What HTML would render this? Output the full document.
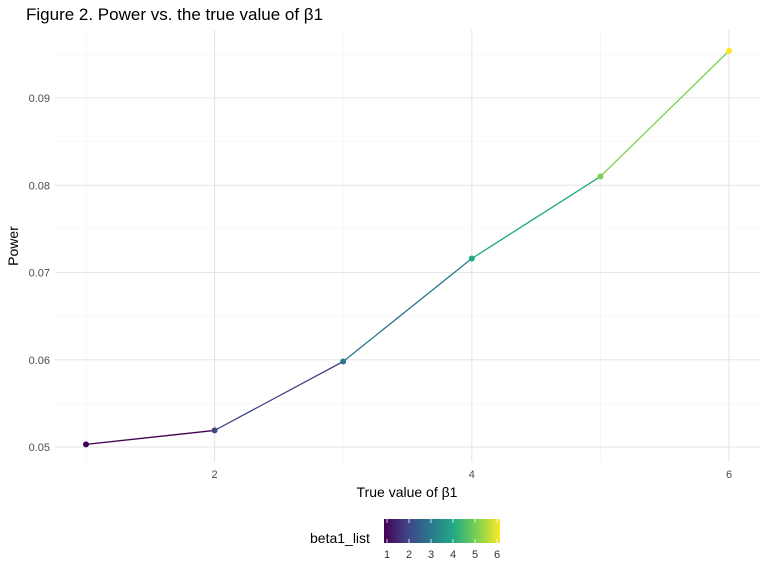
<!DOCTYPE html>
<html><head><meta charset="utf-8"><style>
body{margin:0;background:#fff;}
text{font-family:"Liberation Sans",sans-serif;}
</style></head><body>
<svg id="chart" width="768" height="576" xmlns="http://www.w3.org/2000/svg">
<defs><linearGradient id="vir" x1="0" x2="1" y1="0" y2="0">
<stop offset="0" stop-color="#440154"/><stop offset="0.2" stop-color="#414487"/><stop offset="0.4" stop-color="#2A788E"/><stop offset="0.6" stop-color="#22A884"/><stop offset="0.8" stop-color="#7AD151"/><stop offset="1" stop-color="#FDE725"/></linearGradient></defs>
<text x="26" y="20" font-size="17" fill="#000">Figure 2. Power vs. the true value of β1</text>
<g id="grid"></g>
<g id="marks"></g>
<text x="407" y="497" font-size="14" text-anchor="middle">True value of β1</text>
<text transform="translate(18,246) rotate(-90)" font-size="14" text-anchor="middle">Power</text>
<g>
<text x="310" y="543" font-size="14">beta1_list</text>
<rect x="384" y="519" width="116" height="24" fill="url(#vir)"/>
<g id="legend-ticks"></g>
</g>
</svg>
<script>
const xValues=[1,2,3,4,5,6];
const powerValues=[0.0503,0.0519,0.0598,0.0716,0.0810,0.0954];
const xTicks=[2,4,6];
const yTicks=[0.05,0.06,0.07,0.08,0.09];
const yTickLabels=["0.05","0.06","0.07","0.08","0.09"];
const legendTicks=[1,2,3,4,5,6];
const colors=["#440154","#414487","#2A788E","#22A884","#7AD151","#FDE725"];
const NS="http://www.w3.org/2000/svg";
const X=v=>86+(v-1)*128.6;
const Y=v=>447-(v-0.05)*8725;
function mk(tag,attrs,parent){const e=document.createElementNS(NS,tag);for(const k in attrs)e.setAttribute(k,attrs[k]);parent.appendChild(e);return e;}
const grid=document.getElementById('grid'),marks=document.getElementById('marks');
// minor y
for(let i=0;i<yTicks.length;i++){
  const yv=yTicks[i]+0.005; if(Y(yv)>28){
  const l=mk('line',{x1:55,x2:760,y1:Y(yv),y2:Y(yv),stroke:'#f0f0f0','stroke-width':0.6},grid);
  
  }
  const yb=yTicks[i]-0.005; if(i===0&&Y(yb)<462){
  const l2=mk('line',{x1:55,x2:760,y1:Y(yb),y2:Y(yb),stroke:'#f0f0f0','stroke-width':0.6},grid);
  
  }
}
for(const v of [1,3,5]){
  const l=mk('line',{x1:X(v),x2:X(v),y1:30,y2:462,stroke:'#f0f0f0','stroke-width':0.6},grid);
  
  
}
yTicks.forEach((v,i)=>{
  const l=mk('line',{x1:55,x2:760,y1:Y(v),y2:Y(v),stroke:'#e5e5e5','stroke-width':1.1},grid);
  
  
  const t=mk('text',{x:50,y:Y(v)+4,'font-size':11,fill:'#4d4d4d','text-anchor':'end'},grid);
  t.textContent=yTickLabels[i];
  
  
});
xTicks.forEach(v=>{
  const l=mk('line',{x1:X(v),x2:X(v),y1:30,y2:462,stroke:'#e5e5e5','stroke-width':1.1},grid);
  
  
  const t=mk('text',{x:X(v),y:478,'font-size':11,fill:'#4d4d4d','text-anchor':'middle'},grid);
  t.textContent=v;
  
  
});
for(let i=0;i<xValues.length-1;i++){
  const l=mk('line',{x1:X(xValues[i]),y1:Y(powerValues[i]),x2:X(xValues[i+1]),y2:Y(powerValues[i+1]),stroke:colors[i],'stroke-width':1.3},marks);
  
  
}
xValues.forEach((v,i)=>{
  const c=mk('circle',{cx:X(v),cy:Y(powerValues[i]),r:3,fill:colors[i]},marks);
  
  
});
const lt=document.getElementById('legend-ticks');
legendTicks.forEach(v=>{
  const x=387+(v-1)*22;
  const a=mk('line',{x1:x,x2:x,y1:519,y2:523,stroke:'#fff','stroke-width':0.8},lt);
  
  
  const b=mk('line',{x1:x,x2:x,y1:539,y2:543,stroke:'#fff','stroke-width':0.8},lt);
  
  
  const t=mk('text',{x:x,y:558,'font-size':11,fill:'#333','text-anchor':'middle'},lt);
  t.textContent=v;
  
  
});
</script>
</body></html>
